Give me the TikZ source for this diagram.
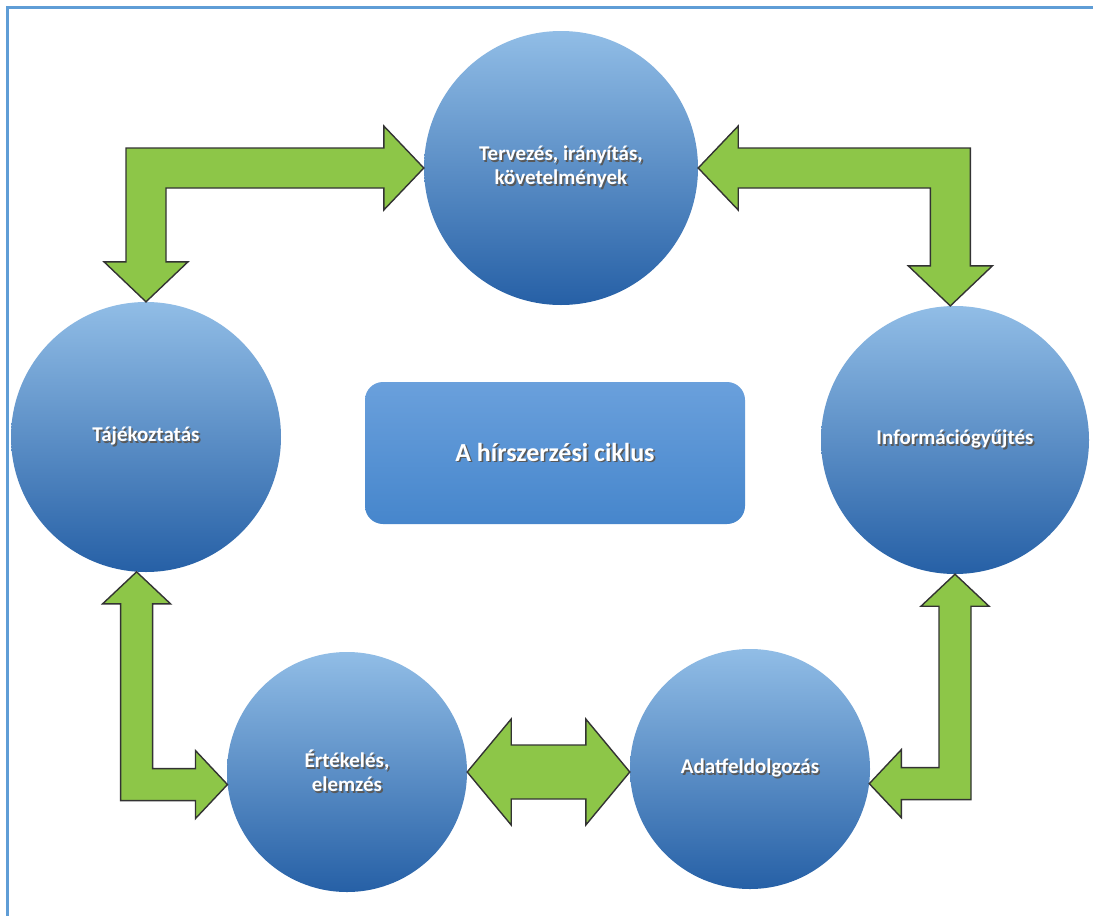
\documentclass[tikz,border=0pt]{standalone}
\usepackage{fontspec}
\setmainfont{Carlito}
\usetikzlibrary{calc, shadings}

\definecolor{cyclegreen}{RGB}{141,198,72}
\definecolor{circletop}{RGB}{145,189,230}
\definecolor{circlebottom}{RGB}{38,96,166}
\definecolor{boxtop}{RGB}{106,160,220}
\definecolor{boxbottom}{RGB}{70,134,204}
\definecolor{framecol}{RGB}{95,157,214}

\tikzstyle{phase} = [circle, inner sep=0pt, top color=circletop, bottom color=circlebottom, text=white, align=center, font=\fontsize{21}{24}\selectfont\bfseries]
\tikzstyle{title} = [rectangle, rounded corners=18pt, minimum width=380pt, minimum height=142pt, top color=boxtop, bottom color=boxbottom, text=white, font=\fontsize{26}{30}\selectfont\bfseries]
\tikzstyle{blockarrow} = [draw=black!80, line width=1.4pt, fill=cyclegreen, line join=miter]

% white text with a soft dark shadow
\newcommand{\shtext}[1]{\makebox[0pt][l]{\hspace{1.6pt}\raisebox{-1.6pt}{\color{black!65}#1}}#1}

% bent block arrow: #1 tip of the level arm, #2 tip of the upright arm, #3/#4 directions
\def\shaftw{20pt}
\def\headw{42pt}
\def\headl{40pt}
\newcommand{\elbowarrow}[4]{%
  \draw[blockarrow] let \p1=(#1), \p2=(#2) in
    ({\x2-(#3)*\shaftw}, {\y1-(#4)*\shaftw}) -- ({\x1-(#3)*\headl}, {\y1-(#4)*\shaftw})
    -- ({\x1-(#3)*\headl}, {\y1-(#4)*\headw}) -- (\p1)
    -- ({\x1-(#3)*\headl}, {\y1+(#4)*\headw}) -- ({\x1-(#3)*\headl}, {\y1+(#4)*\shaftw})
    -- ({\x2+(#3)*\shaftw}, {\y1+(#4)*\shaftw}) -- ({\x2+(#3)*\shaftw}, {\y2-(#4)*\headl})
    -- ({\x2+(#3)*\headw}, {\y2-(#4)*\headl}) -- (\p2)
    -- ({\x2-(#3)*\headw}, {\y2-(#4)*\headl}) -- ({\x2-(#3)*\shaftw}, {\y2-(#4)*\headl}) -- cycle;}

\begin{document}
\begin{tikzpicture}[x=1pt, y=-1pt]

\useasboundingbox (0,0) rectangle (1093,916);
\fill[white] (0,0) rectangle (1093,916);
\draw[framecol, line width=3pt] (7,916) -- (7,7) -- (1093,7);

% Nodes
\node (plan) [phase, minimum size=274pt] at (561,168) {\shtext{Tervezés, irányítás,}\\ \shtext{követelmények}};
\node (brief) [phase, minimum size=270pt] at (146,437) {\shtext{Tájékoztatás}};
\node (info) [phase, minimum size=268pt] at (955,440) {\shtext{Információgyűjtés}};
\node (eval) [phase, minimum size=240pt] at (347,772) {\shtext{Értékelés,}\\ \shtext{elemzés}};
\node (proc) [phase, minimum size=240pt] at (750,769) {\shtext{Adatfeldolgozás}};

\node (cycle) [title] at (555,453) {\shtext{A hírszerzési ciklus}};

% Arrows
\elbowarrow{plan.west}{brief.north}{1}{-1}
\elbowarrow{plan.east}{info.92}{-1}{-1}

\def\shaftw{16pt}
\def\headw{34pt}
\def\headl{32pt}
\elbowarrow{eval.186}{brief.-94}{1}{1}
\elbowarrow{proc.-7}{info.south}{-1}{1}

\draw[blockarrow] let \p1=(eval.east), \p2=(proc.west) in
  (\p1) -- (\x1+44pt, \y1+53pt) -- (\x1+44pt, \y1+27pt) -- (\x2-44pt, \y1+27pt)
  -- (\x2-44pt, \y1+53pt) -- (\x2, \y1) -- (\x2-44pt, \y1-53pt) -- (\x2-44pt, \y1-27pt)
  -- (\x1+44pt, \y1-27pt) -- (\x1+44pt, \y1-53pt) -- cycle;

\end{tikzpicture}
\end{document}
